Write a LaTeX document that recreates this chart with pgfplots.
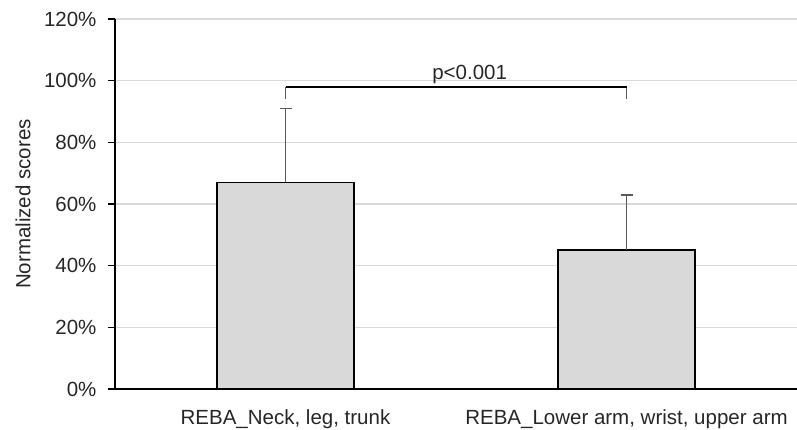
\documentclass[border=0pt]{standalone}
\usepackage{pgfplots}
\pgfplotsset{compat=1.18}
\usepackage{fontspec}
\setmainfont{Liberation Sans}
\definecolor{barfill}{HTML}{D9D9D9}
\definecolor{gridc}{HTML}{D9D9D9}
\definecolor{errc}{HTML}{595959}
\definecolor{txt}{HTML}{262626}
\newcommand\chartfont{\fontsize{20.5bp}{24bp}\selectfont}
\begin{document}
\begin{tikzpicture}
\begin{axis}[
  scale only axis,
  width=682bp, height=370bp,
  xmin=-0.5, xmax=1.5,
  ymin=0, ymax=120,
  enlarge x limits=false,
  axis lines*=left,
  axis line style={black, line width=1.8bp},
  xtick={0,1},
  xticklabels={{REBA\_Neck, leg, trunk}, {REBA\_Lower arm, wrist, upper arm}},
  xtick style={draw=none},
  ytick={0,20,40,60,80,100,120},
  yticklabel={\pgfmathprintnumber{\tick}\%},
  /pgf/number format/assume math mode=true,
  ytick style={black, line width=1.5bp},
  tick align=outside,
  major tick length=7bp,
  ymajorgrids,
  grid style={gridc, line width=1.5bp},
  tick label style={font=\chartfont, text=txt},
  yticklabel style={xshift=-8bp},
  xticklabel style={yshift=-10bp},
  every axis y label/.style={at={(axis description cs:-0.135,0.5)}, rotate=90, anchor=center, font=\chartfont, text=txt},
  ylabel={Normalized scores},
  clip=false,
]
\addplot[ybar, bar width=0.4, fill=barfill, draw=black, line width=1.8bp,
  error bars/.cd, y dir=plus, y explicit,
  error bar style={errc, line width=1.8bp},
  error mark options={errc, line width=1.8bp, mark size=6bp, rotate=90}]
  coordinates {(0,67) +- (0,24) (1,45) +- (0,18)};
% significance bracket
\addplot[errc, line width=1.8bp] coordinates {(0,94) (0,98)};
\addplot[errc, line width=1.8bp] coordinates {(1,94) (1,98)};
\addplot[black, line width=2bp] coordinates {(0,98) (1,98)};
\node[anchor=base, font=\chartfont, text=txt] at (axis cs:0.54,100.3) {p<0.001};
\end{axis}
\pgfresetboundingbox
\path[use as bounding box] ([xshift=-115bp,yshift=-41bp]current axis.south west) rectangle ([yshift=19bp]current axis.north east);
\end{tikzpicture}
\end{document}
